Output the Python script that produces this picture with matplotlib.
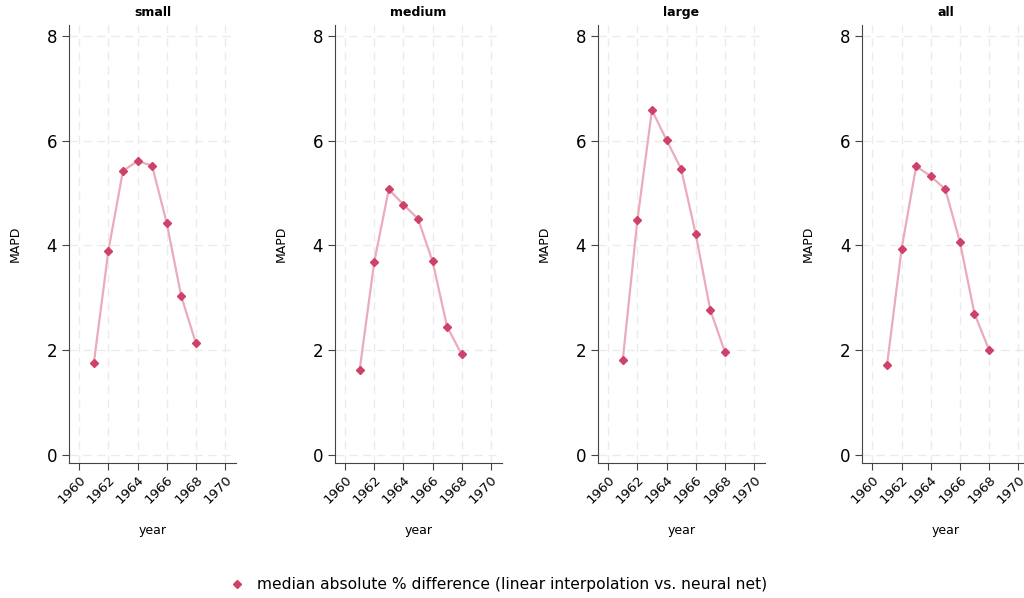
import matplotlib
matplotlib.use('Agg')
import matplotlib.pyplot as plt
from matplotlib.lines import Line2D

years = [1961, 1962, 1963, 1964, 1965, 1966, 1967, 1968]
groups = ['small', 'medium', 'large', 'all']
mapd_small = [1.75, 3.90, 5.42, 5.61, 5.52, 4.43, 3.03, 2.14]
mapd_medium = [1.62, 3.68, 5.07, 4.78, 4.51, 3.70, 2.45, 1.92]
mapd_large = [1.82, 4.48, 6.58, 6.01, 5.46, 4.22, 2.77, 1.97]
mapd_all = [1.71, 3.93, 5.51, 5.32, 5.07, 4.07, 2.70, 2.01]
series = [mapd_small, mapd_medium, mapd_large, mapd_all]

xticks = [1960, 1962, 1964, 1966, 1968, 1970]
yticks = [0, 2, 4, 6, 8]

line_col = '#ebaabd'
mark_col = '#d0416a'
spine_col = '#444444'

fig = plt.figure(figsize=(10.24, 5.98), dpi=100)
lefts = [0.0674, 0.327, 0.584, 0.842]

for i, (name, vals) in enumerate(zip(groups, series)):
    ax = fig.add_axes([lefts[i], 0.2258, 0.163, 0.732])
    ax.plot(years, vals, color=line_col, lw=1.6, zorder=2)
    ax.plot(years, vals, ls='none', marker='D', ms=4, color=mark_col,
            mec=mark_col, zorder=3)
    ax.set_xlim(1959.3, 1970.75)
    ax.set_ylim(-0.15, 8.2)
    ax.set_xticks(xticks)
    ax.set_yticks(yticks)
    # the last panel's "1970" runs off the right edge, as in the original
    ax.set_xticklabels([str(t) for t in xticks], rotation=45, ha='right',
                       rotation_mode='anchor', fontsize=9.5)
    ax.tick_params(axis='y', labelsize=12, length=5, color=spine_col)
    ax.tick_params(axis='x', length=5, color=spine_col, pad=2)
    ax.grid(True, color='#ebebeb', ls=(0, (6, 4)), lw=1)
    ax.set_axisbelow(True)
    for s in ['top', 'right']:
        ax.spines[s].set_visible(False)
    for s in ['left', 'bottom']:
        ax.spines[s].set_color(spine_col)
    ax.set_title(name, fontsize=9, fontweight='bold', pad=7)
    ax.set_ylabel('MAPD', fontsize=9, labelpad=18)
    ax.set_xlabel('year', fontsize=9, labelpad=13)

handle = Line2D([], [], ls='none', marker='D', ms=4.5, color=mark_col)
fig.legend([handle], ['median absolute % difference (linear interpolation vs. neural net)'],
           loc='center', bbox_to_anchor=(0.483, 0.022), frameon=False,
           fontsize=11.2, handletextpad=0.3)

fig.savefig('out.png', dpi=100)
